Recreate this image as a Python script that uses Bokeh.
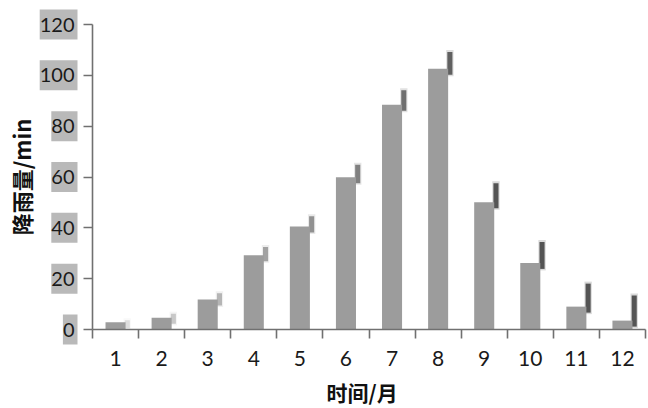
import math
from bokeh.plotting import figure
from bokeh.models import Range1d, FixedTicker, LinearAxis
from bokeh.core.properties import value
from bokeh.embed import file_html
from bokeh.resources import INLINE

months = [1, 2, 3, 4, 5, 6, 7, 8, 9, 10, 11, 12]
month_labels = ["1", "2", "3", "4", "5", "6", "7", "8", "9", "10", "11", "12"]
rainfall = [2.9, 4.6, 11.8, 29.2, 40.5, 59.9, 88.4, 102.6, 50.1, 26.2, 9.0, 3.5]
y_ticks = [0, 20, 40, 60, 80, 100, 120]
y_tick_labels = ["0", "20", "40", "60", "80", "100", "120"]
x_title = "时间/月"
y_title = "降雨量/min"

# layout (pixels inside the canvas)
W, H = 648, 408
PLOT_L, PLOT_R, PLOT_T, PLOT_B = 92, 645, 24, 329   # where x=0.5..12.5 and y=120..0 sit
X0, X1, Y0, Y1 = 0.5, 12.5, 0, 120
ppx = (PLOT_R - PLOT_L) / (X1 - X0)
ppy = (PLOT_B - PLOT_T) / (Y1 - Y0)

font = "Lato"
cjk = "Noto Sans CJK SC"
axis_col = "#707070"

p = figure(width=W, height=H, output_backend="svg", toolbar_location=None,
           x_range=Range1d(X0 - PLOT_L / ppx, X1 + (W - PLOT_R) / ppx),
           y_range=Range1d(Y0 - (H - PLOT_B) / ppy, Y1 + PLOT_T / ppy),
           min_border=0, x_axis_location=None, y_axis_location=None)
p.grid.visible = False
p.outline_line_color = None

# grey boxes behind y tick labels
box_right = X0 - 15 / ppx
box_w = [11.6 * len(s) + 3 for s in y_tick_labels]
p.rect(x=[box_right - w / 2 / ppx for w in box_w], y=y_ticks, width=box_w, height=30,
       width_units="screen", height_units="screen", fill_color="#b9b9b9", line_color=None)

# shadow marks at top-right of bars (decoration): soft halo + darker core
for widen, alpha_scale in ((0.025, 0.22), (0.0, 1.0)):
    sh_top, sh_bot, sh_l, sh_r, sh_alpha = [], [], [], [], []
    for i, (m, v) in enumerate(zip(months, rainfall)):
        above = 2 + 2.1 * i
        sh_top.append(v + (above + widen * 80) / ppy)
        sh_bot.append(v - (6 + widen * 60) / ppy)
        sh_l.append(m + 0.20 - widen)
        sh_r.append(m + 0.31 + widen)
        sh_alpha.append(alpha_scale * min(0.85, 0.15 + 0.09 * i))
    p.quad(left=sh_l, right=sh_r, top=sh_top, bottom=sh_bot,
           fill_color="#3c3c3c", fill_alpha=sh_alpha, line_color=None)

# bars
p.vbar(x=months, top=rainfall, width=0.435, fill_color="#9c9c9c", line_color=None)

xaxis = LinearAxis(ticker=FixedTicker(ticks=months, minor_ticks=[m + 0.5 for m in [0] + months]),
                   major_label_overrides={m: l for m, l in zip(months, month_labels)},
                   fixed_location=Y0, bounds=(X0, X1))
xaxis.major_tick_out = 0
xaxis.major_tick_in = 0
xaxis.minor_tick_out = 9
xaxis.minor_tick_in = 0
xaxis.minor_tick_line_color = axis_col
xaxis.minor_tick_line_width = 1.6
xaxis.axis_line_color = axis_col
xaxis.axis_line_width = 1.6
xaxis.major_label_text_font = font
xaxis.major_label_text_font_size = "21px"
xaxis.major_label_text_color = "#1a1a1a"
xaxis.major_label_standoff = 12
p.add_layout(xaxis, "below")

yaxis = LinearAxis(ticker=FixedTicker(ticks=y_ticks, minor_ticks=[]),
                   major_label_overrides={t: l for t, l in zip(y_ticks, y_tick_labels)},
                   fixed_location=X0, bounds=(Y0, Y1))
yaxis.major_tick_out = 9
yaxis.major_tick_in = 0
yaxis.major_tick_line_color = axis_col
yaxis.major_tick_line_width = 1.6
yaxis.axis_line_color = axis_col
yaxis.axis_line_width = 1.6
yaxis.major_label_text_font = font
yaxis.major_label_text_font_size = "20px"
yaxis.major_label_text_color = "#1a1a1a"
yaxis.major_label_standoff = 9
p.add_layout(yaxis, "left")

# axis titles
p.text(x=[(X0 + X1) / 2 - 0.15], y=[Y0], y_offset=[62], text=[x_title],
       text_align="center", text_baseline="middle", text_font=value(cjk),
       text_font_style="bold", text_font_size="21px", text_color="#111111")
p.text(x=[X0], y=[(Y0 + Y1) / 2], x_offset=[-72], text=[y_title], angle=math.pi / 2,
       text_align="center", text_baseline="middle", text_font=value(cjk),
       text_font_style="bold", text_font_size="22px", text_color="#111111")

open("out.html", "w").write(file_html(p, INLINE))
